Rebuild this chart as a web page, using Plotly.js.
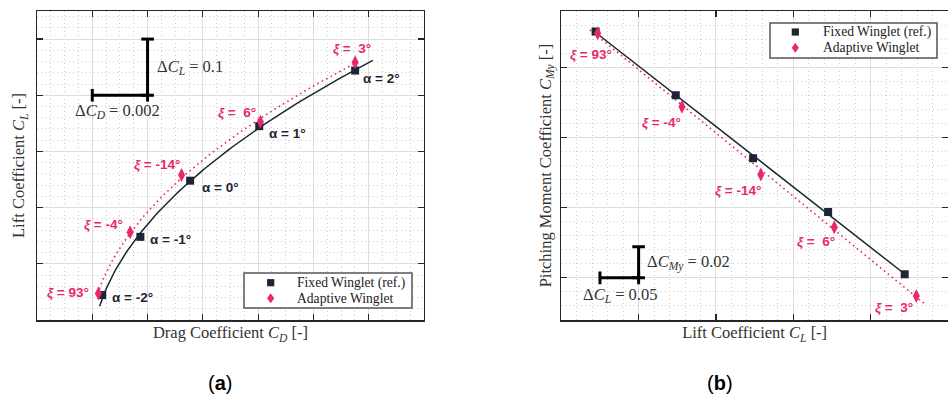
<!DOCTYPE html>
<html>
<head>
<meta charset="utf-8">
<script src="https://cdn.plot.ly/plotly-3.0.1.min.js"></script>
<style>html,body{margin:0;padding:0;background:#fff}#chart{width:948px;height:401px}</style>
</head>
<body>
<div id="chart"></div>
<script>
// ---------------- data ----------------
const fixedCD  = [0.01436, 0.01574, 0.01754, 0.02004, 0.02351];
const fixedCL  = [0.0444, 0.148, 0.248, 0.345, 0.444];
const adaptCD  = [0.01422, 0.01537, 0.01723, 0.02008, 0.02351];
const adaptCL  = [0.047, 0.156, 0.258, 0.353, 0.459];
const fixedCMy = [0.0228, -0.0180, -0.0583, -0.0928, -0.1327];
const adaptCMy = [0.0218, -0.0254, -0.0688, -0.1026, -0.1466];
const alphaLabels = ['α = -2°', 'α = -1°', 'α = 0°', 'α = 1°', 'α = 2°'];
const xiLabels    = ['93°', '-4°', '-14°', '\u00a06°', '\u00a03°'];
const seriesNames = ['Fixed Winglet (ref.)', 'Adaptive Winglet'];
// scale bars (unit lengths)
const scaleA = {dCD: 0.002, dCL: 0.1, cornerCD: 0.016, cornerCL: 0.4};
const scaleB = {dCL: 0.05, dCMy: 0.02, cornerCL: 0.1, cornerCMy: -0.135};

// ---------------- helpers ----------------
function polyfit(xs, ys, deg) {
  const n = deg + 1;
  const A = [], b = [];
  for (let r = 0; r < n; r++) {
    A.push(new Array(n).fill(0)); b.push(0);
    for (let c = 0; c < n; c++) for (let k = 0; k < xs.length; k++) A[r][c] += Math.pow(xs[k], r + c);
    for (let k = 0; k < xs.length; k++) b[r] += ys[k] * Math.pow(xs[k], r);
  }
  for (let i = 0; i < n; i++) {
    let p = i;
    for (let j = i + 1; j < n; j++) if (Math.abs(A[j][i]) > Math.abs(A[p][i])) p = j;
    [A[i], A[p]] = [A[p], A[i]]; [b[i], b[p]] = [b[p], b[i]];
    for (let j = i + 1; j < n; j++) {
      const f = A[j][i] / A[i][i];
      for (let c = i; c < n; c++) A[j][c] -= f * A[i][c];
      b[j] -= f * b[i];
    }
  }
  const coef = new Array(n).fill(0);
  for (let i = n - 1; i >= 0; i--) {
    let s = b[i];
    for (let c = i + 1; c < n; c++) s -= A[i][c] * coef[c];
    coef[i] = s / A[i][i];
  }
  return x => coef.reduce((acc, cc, i) => acc + cc * Math.pow(x, i), 0);
}
function sample(f, lo, hi, steps) {
  const xs = [], ys = [];
  for (let i = 0; i <= steps; i++) { const t = lo + (hi - lo) * i / steps; xs.push(t); ys.push(f(t)); }
  return [xs, ys];
}

const DARK = '#1c2533';
const PINK = '#e8286a';
const GRID = '#dddddd';
const MINOR = '#cdcdcd';
const FRAME = '#262626';
const DOTS = '1.6px,3.4px';

// fits
const fFixedA = polyfit(fixedCL, fixedCD, 2);
const fAdaptA = polyfit(adaptCL, adaptCD, 2);
const fFixedB = polyfit(fixedCL, fixedCMy, 1);
const fAdaptB = polyfit(adaptCL, adaptCMy, 1);
const minF = Math.min(...fixedCL), maxF = Math.max(...fixedCL);
const minA = Math.min(...adaptCL), maxA = Math.max(...adaptCL);
const [clFa, cdFa] = sample(fFixedA, minF - 0.02, maxF + 0.018, 80);
const [clAa, cdAa] = sample(fAdaptA, minA, maxA, 80);
const [clFb, cmFb] = sample(fFixedB, minF, maxF, 2);
const [clAb, cmAb] = sample(fAdaptB, minA - 0.01, maxA + 0.012, 2);

const traces = [
  {x: cdFa, y: clFa, mode: 'lines', line: {color: DARK, width: 1.5}, hoverinfo: 'skip', xaxis: 'x', yaxis: 'y'},
  {x: cdAa, y: clAa, mode: 'lines', line: {color: PINK, width: 1.6, dash: DOTS}, hoverinfo: 'skip', xaxis: 'x', yaxis: 'y'},
  {x: fixedCD, y: fixedCL, mode: 'markers', name: seriesNames[0], marker: {symbol: 'square', size: 8, color: DARK}, xaxis: 'x', yaxis: 'y'},
  {x: adaptCD, y: adaptCL, mode: 'markers', name: seriesNames[1], marker: {symbol: 'diamond-tall', size: 10, color: PINK}, xaxis: 'x', yaxis: 'y'},

  {x: clFb, y: cmFb, mode: 'lines', line: {color: DARK, width: 1.5}, hoverinfo: 'skip', xaxis: 'x2', yaxis: 'y2'},
  {x: clAb, y: cmAb, mode: 'lines', line: {color: PINK, width: 1.6, dash: DOTS}, hoverinfo: 'skip', xaxis: 'x2', yaxis: 'y2'},
  {x: fixedCL, y: fixedCMy, mode: 'markers', name: seriesNames[0], marker: {symbol: 'square', size: 8, color: DARK}, xaxis: 'x2', yaxis: 'y2'},
  {x: adaptCL, y: adaptCMy, mode: 'markers', name: seriesNames[1], marker: {symbol: 'diamond-tall', size: 10, color: PINK}, xaxis: 'x2', yaxis: 'y2'},

  // scale bars
  {x: [scaleA.cornerCD - scaleA.dCD, scaleA.cornerCD], y: [scaleA.cornerCL, scaleA.cornerCL], mode: 'lines+markers',
   line: {color: '#000', width: 3}, marker: {symbol: 'line-ns', size: 9, line: {width: 3, color: '#000'}}, hoverinfo: 'skip', xaxis: 'x', yaxis: 'y'},
  {x: [scaleA.cornerCD, scaleA.cornerCD], y: [scaleA.cornerCL, scaleA.cornerCL + scaleA.dCL], mode: 'lines+markers',
   line: {color: '#000', width: 3}, marker: {symbol: 'line-ew', size: 9, line: {width: 3, color: '#000'}}, hoverinfo: 'skip', xaxis: 'x', yaxis: 'y'},
  {x: [scaleB.cornerCL - scaleB.dCL, scaleB.cornerCL], y: [scaleB.cornerCMy, scaleB.cornerCMy], mode: 'lines+markers',
   line: {color: '#000', width: 3}, marker: {symbol: 'line-ns', size: 9, line: {width: 3, color: '#000'}}, hoverinfo: 'skip', xaxis: 'x2', yaxis: 'y2'},
  {x: [scaleB.cornerCL, scaleB.cornerCL], y: [scaleB.cornerCMy, scaleB.cornerCMy + scaleB.dCMy], mode: 'lines+markers',
   line: {color: '#000', width: 3}, marker: {symbol: 'line-ew', size: 9, line: {width: 3, color: '#000'}}, hoverinfo: 'skip', xaxis: 'x2', yaxis: 'y2'}
];
traces.forEach(t => t.showlegend = false);

const LBL = {family: 'Liberation Sans, Arial, sans-serif', size: 13.5};
const annotations = [];
// label pixel offsets from their points
const xiA = [[-7, 1, 'right'], [-5, 8, 'right'], [0, 11, 'right'], [-2, 9, 'right'], [-3, 14, 'center']];
const alA = [[8, -2], [8, -3], [10, -7], [8, -7], [6, -8]];
const xiB = [[-7, -21], [-20, -16], [-23, -16], [-18, -14], [-22, -12]];
for (let i = 0; i < adaptCD.length; i++) {
  annotations.push({xref: 'x', yref: 'y', x: adaptCD[i], y: adaptCL[i], showarrow: false,
    text: '<b><i>ξ</i> = ' + xiLabels[i] + '</b>', xanchor: xiA[i][2], yanchor: 'middle',
    xshift: xiA[i][0], yshift: xiA[i][1], font: Object.assign({color: PINK}, LBL)});
  annotations.push({xref: 'x', yref: 'y', x: fixedCD[i], y: fixedCL[i], showarrow: false,
    text: '<b>' + alphaLabels[i] + '</b>', xanchor: 'left', yanchor: 'middle',
    xshift: alA[i][0], yshift: alA[i][1], font: Object.assign({color: DARK}, LBL)});
  annotations.push({xref: 'x2', yref: 'y2', x: adaptCL[i], y: adaptCMy[i], showarrow: false,
    text: '<b><i>ξ</i> = ' + xiLabels[i] + '</b>', xanchor: 'center', yanchor: 'middle',
    xshift: xiB[i][0], yshift: xiB[i][1], font: Object.assign({color: PINK}, LBL)});
}
const SERIF = {family: 'Liberation Serif, Times New Roman, serif', size: 16.5, color: '#333'};
// scale bar labels
annotations.push({xref: 'x', yref: 'y', x: scaleA.cornerCD, y: scaleA.cornerCL + scaleA.dCL / 2, showarrow: false,
  text: 'Δ<i>C</i><sub><i>L</i></sub> = 0.1', xanchor: 'left', yanchor: 'middle', xshift: 7, yshift: 0, font: SERIF});
annotations.push({xref: 'x', yref: 'y', x: scaleA.cornerCD - scaleA.dCD / 2, y: scaleA.cornerCL, showarrow: false,
  text: 'Δ<i>C</i><sub><i>D</i></sub> = 0.002', xanchor: 'center', yanchor: 'middle', xshift: -2, yshift: -16, font: SERIF});
annotations.push({xref: 'x2', yref: 'y2', x: scaleB.cornerCL, y: scaleB.cornerCMy + scaleB.dCMy / 2, showarrow: false,
  text: 'Δ<i>C</i><sub><i>My</i></sub> = 0.02', xanchor: 'left', yanchor: 'middle', xshift: 6, yshift: 0, font: SERIF});
annotations.push({xref: 'x2', yref: 'y2', x: scaleB.cornerCL - scaleB.dCL / 2, y: scaleB.cornerCMy, showarrow: false,
  text: 'Δ<i>C</i><sub><i>L</i></sub> = 0.05', xanchor: 'center', yanchor: 'middle', xshift: 1, yshift: -17, font: SERIF});
// panel captions
const CAP = {family: 'Liberation Sans, Arial, sans-serif', size: 20, color: '#000'};
annotations.push({xref: 'paper', yref: 'paper', x: 0.2009, y: -0.204, showarrow: false, text: '(<b>a</b>)',
  xanchor: 'center', yanchor: 'middle', font: CAP});
annotations.push({xref: 'paper', yref: 'paper', x: 0.7495, y: -0.204, showarrow: false, text: '(<b>b</b>)',
  xanchor: 'center', yanchor: 'middle', font: CAP});

// boxed legends (one per panel), drawn with shapes + text
const LEGFONT = {family: 'Liberation Serif, Times New Roman, serif', size: 13.6, color: '#222'};
const legends = [
  {x0: 0.2272, x1: 0.4116, y0: 0.0388, y1: 0.1521, sx: 0.2565, tx: 0.2832, ys: [0.1207, 0.0702]},
  {x0: 0.8046, x1: 0.9879, y0: 0.8479, y1: 0.9612, sx: 0.8324, tx: 0.8603, ys: [0.9320, 0.8812]}
];
const shapes = [];
legends.forEach(L => {
  shapes.push({type: 'rect', xref: 'paper', yref: 'paper', x0: L.x0, x1: L.x1, y0: L.y0, y1: L.y1,
    line: {color: '#555', width: 1.5}, fillcolor: '#fff', layer: 'above'});
  shapes.push({type: 'rect', xref: 'paper', yref: 'paper', xsizemode: 'pixel', ysizemode: 'pixel',
    xanchor: L.sx, yanchor: L.ys[0], x0: -3.6, x1: 3.6, y0: -3.6, y1: 3.6,
    line: {width: 0}, fillcolor: DARK, layer: 'above'});
  shapes.push({type: 'path', xref: 'paper', yref: 'paper', xsizemode: 'pixel', ysizemode: 'pixel',
    xanchor: L.sx, yanchor: L.ys[1], path: 'M0,-5 L3.6,0 L0,5 L-3.6,0 Z',
    line: {width: 0}, fillcolor: PINK, layer: 'above'});
  seriesNames.forEach((nm, k) => annotations.push({xref: 'paper', yref: 'paper', x: L.tx, y: L.ys[k], text: nm,
    showarrow: false, xanchor: 'left', yanchor: 'middle', font: LEGFONT}));
});

function axis(extra) {
  return Object.assign({
    showticklabels: false, ticks: 'inside', ticklen: 6, tickwidth: 1.2, tickcolor: FRAME,
    showline: true, linecolor: FRAME, linewidth: 1.5, mirror: 'ticks', zeroline: false,
    showgrid: true, gridcolor: GRID, gridwidth: 1, fixedrange: true
  }, extra);
}
function minor(dt) { return {dtick: dt, showgrid: true, gridcolor: MINOR, griddash: '1px,3px', gridwidth: 1, ticks: ''}; }

const layout = {
  width: 948, height: 401,
  margin: {l: 37, r: 0, t: 11, b: 81},
  paper_bgcolor: '#fff', plot_bgcolor: '#fff',
  font: {family: 'Liberation Serif, serif', color: '#333'},
  xaxis: axis({domain: [0, 0.4248], range: [0.012, 0.026], dtick: 0.002, tick0: 0, minor: minor(0.0005), anchor: 'y',
    title: {text: 'Drag Coefficient <i>C</i><sub><i>D</i></sub> [-]', font: SERIF, standoff: 6}}),
  yaxis: axis({domain: [0, 1], range: [0, 0.55], dtick: 0.1, tick0: 0, minor: minor(0.02), anchor: 'x',
    title: {text: 'Lift Coefficient <i>C</i><sub><i>L</i></sub> [-]', font: SERIF, standoff: 6}}),
  xaxis2: axis({domain: [0.5755, 1], range: [0, 0.5], dtick: 0.1, tick0: 0, minor: minor(0.02), anchor: 'y2',
    title: {text: 'Lift Coefficient <i>C</i><sub><i>L</i></sub> [-]', font: SERIF, standoff: 6}}),
  yaxis2: axis({domain: [0, 1], range: [-0.162, 0.036], dtick: 0.045, tick0: 0, minor: minor(0.009), anchor: 'x2',
    title: {text: 'Pitching Moment Coefficient <i>C</i><sub><i>My</i></sub> [-]', font: SERIF, standoff: 4}}),
  annotations: annotations,
  shapes: shapes,
  showlegend: false
};

Plotly.newPlot('chart', traces, layout, {displayModeBar: false, staticPlot: true});
</script>
</body>
</html>
